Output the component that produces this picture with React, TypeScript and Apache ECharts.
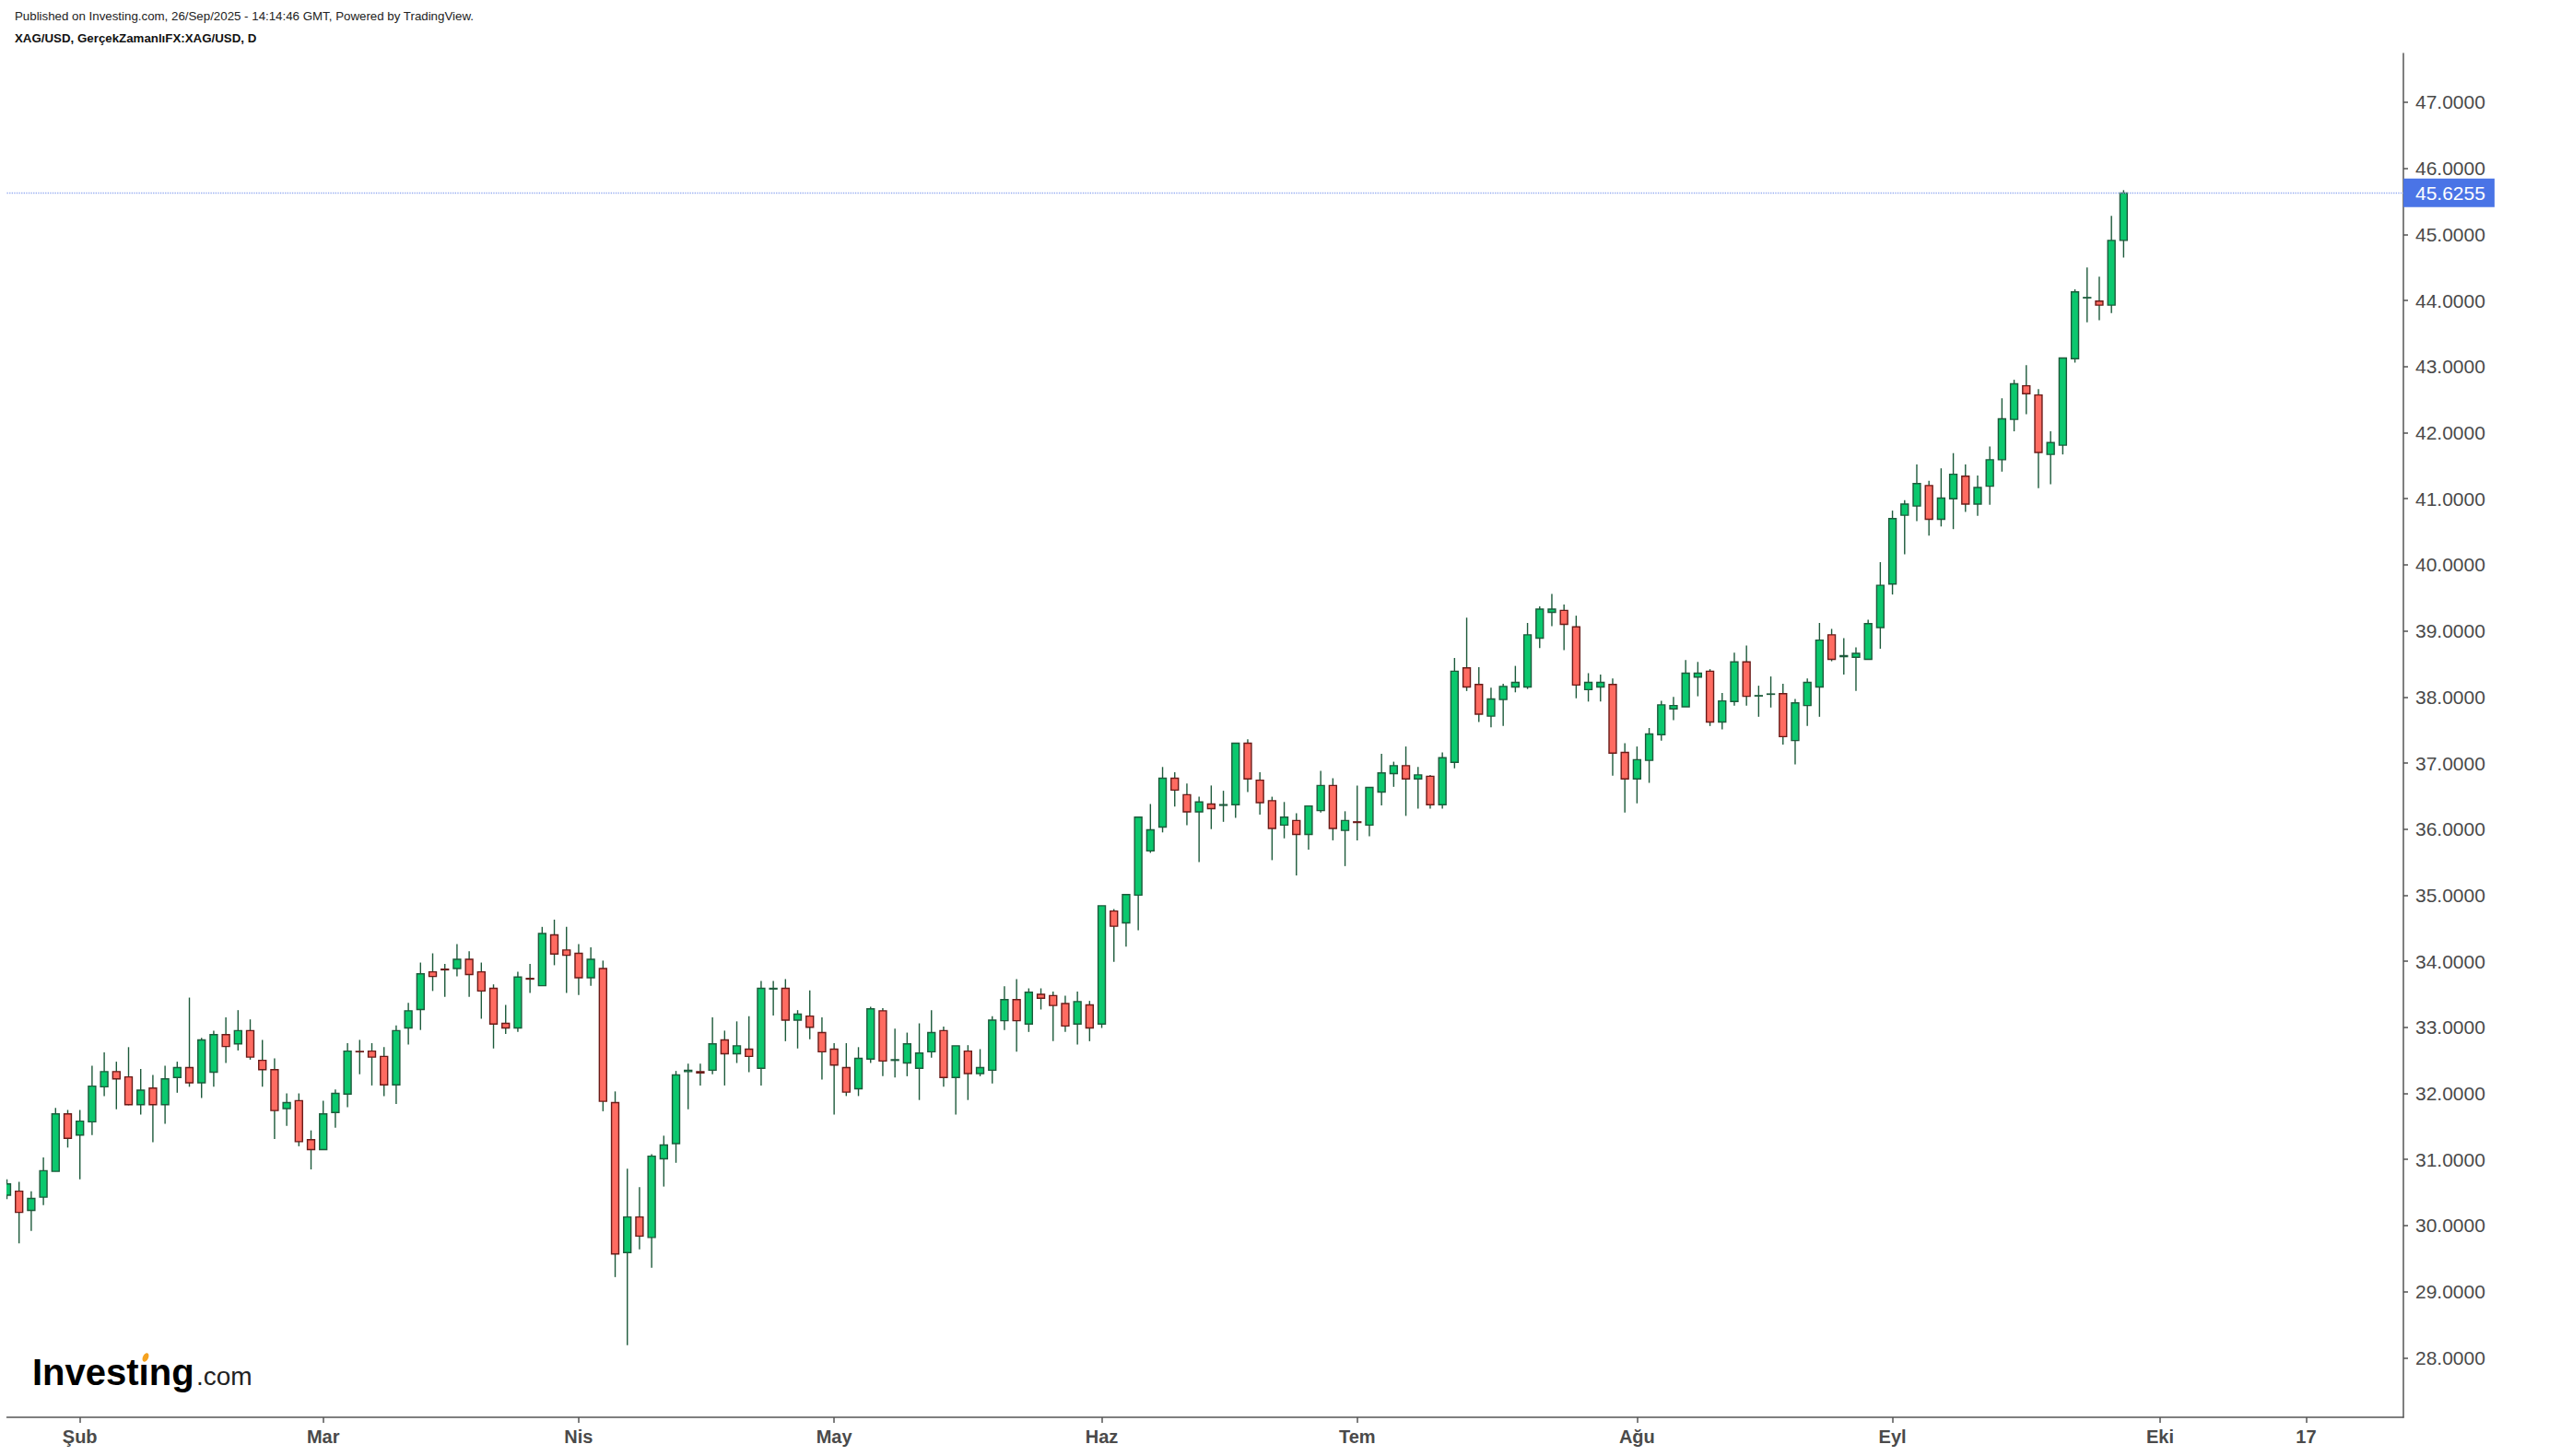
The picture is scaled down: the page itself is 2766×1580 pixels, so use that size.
import React, { useEffect, useRef } from "react";
import * as echarts from "echarts";

// ---- trading days (Jan 24 – Oct 29, 2025; Apr 18 closed) ----
const jan25 = [24, 27, 28, 29, 30, 31];
const feb25 = [3, 4, 5, 6, 7, 10, 11, 12, 13, 14, 17, 18, 19, 20, 21, 24, 25, 26, 27, 28];
const mar25 = [3, 4, 5, 6, 7, 10, 11, 12, 13, 14, 17, 18, 19, 20, 21, 24, 25, 26, 27, 28, 31];
const apr25 = [1, 2, 3, 4, 7, 8, 9, 10, 11, 14, 15, 16, 17, 21, 22, 23, 24, 25, 28, 29, 30];
const may25 = [1, 2, 5, 6, 7, 8, 9, 12, 13, 14, 15, 16, 19, 20, 21, 22, 23, 26, 27, 28, 29, 30];
const jun25 = [2, 3, 4, 5, 6, 9, 10, 11, 12, 13, 16, 17, 18, 19, 20, 23, 24, 25, 26, 27, 30];
const jul25 = [1, 2, 3, 4, 7, 8, 9, 10, 11, 14, 15, 16, 17, 18, 21, 22, 23, 24, 25, 28, 29, 30, 31];
const aug25 = [1, 4, 5, 6, 7, 8, 11, 12, 13, 14, 15, 18, 19, 20, 21, 22, 25, 26, 27, 28, 29];
const sep25 = [1, 2, 3, 4, 5, 8, 9, 10, 11, 12, 15, 16, 17, 18, 19, 22, 23, 24, 25, 26, 29, 30];
const oct25 = [1, 2, 3, 6, 7, 8, 9, 10, 13, 14, 15, 16, 17, 20, 21, 22, 23, 24, 27, 28, 29];

// ---- x-axis tick labels ----
const tickDates = ["2025-02-03", "2025-03-03", "2025-04-01", "2025-05-01", "2025-06-02", "2025-07-01", "2025-08-01", "2025-09-01", "2025-10-01", "2025-10-17"];
const tickLabels = ["Şub", "Mar", "Nis", "May", "Haz", "Tem", "Ağu", "Eyl", "Eki", "17"];

// ---- y-axis tick values ----
const yTicks = [28, 29, 30, 31, 32, 33, 34, 35, 36, 37, 38, 39, 40, 41, 42, 43, 44, 45, 46, 47];

// ---- OHLC (XAG/USD daily) ----
const opens = [30.46,30.52,30.23,30.43,30.82,31.69,31.37,31.57,32.10,32.33, 32.25,31.83,32.08,31.83,32.24,32.39,32.16,32.32,32.89,32.75, 32.95,32.50,32.36,31.77,31.89,31.30,31.15,31.71,31.99,32.635, 32.64,32.56,32.13,32.99,33.27,33.84,33.88,33.89,34.03,33.84, 33.59,33.06,32.99,33.74,33.63,34.40,34.17,34.12,33.75,33.89, 31.86,29.59,30.13,29.82,31.01,31.24,32.33,32.33,32.35,32.81, 32.60,32.67,32.38,33.58,33.59,33.11,33.17,32.92,32.67,32.39, 32.07,32.52,33.25,32.50,32.46,32.38,32.63,32.95,32.24,32.64, 32.30,32.35,33.10,33.42,33.05,33.50,33.48,33.36,33.05,33.34, 33.05,34.76,34.58,35.00,35.67,36.03,36.77,36.52,36.26,36.38, 36.36,36.37,37.30,36.74,36.43,36.06,36.13,35.92,36.28,36.66, 35.98,36.11,36.06,36.56,36.84,36.96,36.76,36.80,36.37,37.01, 38.44,38.19,37.71,37.96,38.15,38.15,38.89,39.28,39.31,39.06, 38.11,38.15,38.19,37.16,36.76,37.04,37.43,37.82,37.85,38.30, 38.39,37.62,37.93,38.53,38.015,38.04,38.05,37.34,37.87,38.15, 38.94,38.61,38.60,38.57,39.05,39.71,40.75,40.89,41.20,40.69, 41.00,41.34,40.92,41.19,41.59,42.20,42.71,42.57,41.67,41.81, 43.12,44.04,43.99,43.93,44.91];
const closes = [30.63,30.20,30.41,30.83,31.69,31.32,31.58,32.11,32.33,32.22, 31.83,32.05,31.83,32.22,32.39,32.16,32.81,32.89,32.71,32.95, 32.55,32.36,31.74,31.86,31.27,31.15,31.69,32.00,32.64,32.63, 32.55,32.13,32.95,33.25,33.81,33.77,33.87,34.03,33.80,33.55, 33.05,32.99,33.76,33.73,34.42,34.11,34.09,33.75,34.03,31.88, 29.57,30.13,29.84,31.05,31.22,32.28,32.35,32.31,32.75,32.60, 32.72,32.56,33.59,33.59,33.11,33.20,33.00,32.63,32.43,32.02, 32.53,33.28,32.49,32.51,32.75,32.61,32.92,32.24,32.72,32.30, 32.39,33.11,33.42,33.10,33.53,33.44,33.33,33.02,33.39,32.99, 34.84,34.53,35.01,36.18,35.99,36.77,36.59,36.26,36.41,36.31, 36.37,37.30,36.76,36.40,36.01,36.18,35.92,36.35,36.66,36.01, 36.13,36.10,36.63,36.85,36.96,36.76,36.82,36.37,37.08,38.39, 38.15,37.74,37.97,38.16,38.22,38.94,39.33,39.33,39.10,38.18, 38.22,38.22,37.15,36.76,37.05,37.44,37.88,37.87,38.36,38.36, 37.62,37.94,38.53,38.01,38.02,38.045,37.40,37.91,38.22,38.86, 38.57,38.625,38.66,39.11,39.69,40.70,40.92,41.23,40.69,41.01, 41.37,40.92,41.17,41.59,42.21,42.74,42.59,41.70,41.85,43.13, 44.13,44.045,43.93,44.91,45.6255];
const lows = [30.40,29.73,29.92,30.31,30.82,31.18,30.70,31.37,31.96,31.76, 31.82,31.68,31.26,31.54,32.01,32.10,31.93,32.10,32.46,32.65, 32.51,32.10,31.31,31.51,31.20,30.85,31.15,31.48,31.79,32.29, 32.12,31.96,31.84,32.74,32.96,33.55,33.46,33.77,33.46,33.13, 32.68,32.90,32.93,33.52,33.63,33.94,33.52,33.49,33.63,31.73, 29.22,28.19,29.64,29.36,30.59,30.95,31.76,32.12,32.29,32.12, 32.46,32.32,32.12,33.18,32.79,32.68,32.82,32.21,31.68,31.96, 31.96,32.46,32.26,32.24,32.26,31.90,32.54,32.10,31.68,31.90, 32.26,32.15,32.96,32.63,32.93,33.27,32.79,32.93,32.74,32.79, 32.99,33.99,34.22,34.47,35.64,35.95,36.34,36.06,35.50,36.00, 36.11,36.17,36.56,36.22,35.53,35.86,35.30,35.69,36.25,35.83, 35.44,35.83,35.89,36.36,36.64,36.20,36.31,36.31,36.31,36.92, 38.09,37.62,37.54,37.56,38.07,38.12,38.74,39.07,38.71,37.98, 37.93,37.93,36.81,36.25,36.39,36.70,37.34,37.65,37.85,38.01, 37.56,37.51,37.87,37.87,37.70,37.84,37.28,36.98,37.56,37.70, 38.54,38.34,38.09,38.57,38.73,39.55,40.16,40.66,40.44,40.58, 40.54,40.80,40.74,40.91,41.41,42.02,42.28,41.16,41.22,41.67, 43.06,43.67,43.70,43.81,44.65];
const highs = [30.70,30.66,30.52,31.03,31.78,31.75,31.75,32.42,32.62,32.48, 32.70,32.37,32.28,32.42,32.48,33.45,32.84,32.95,33.15,33.26, 33.12,32.81,32.53,32.00,32.00,31.44,31.89,32.06,32.76,32.81, 32.76,32.70,33.03,33.37,33.98,34.12,33.96,34.26,34.15,33.98, 33.65,33.34,33.84,33.96,34.52,34.63,34.52,34.26,34.21,34.01, 32.03,30.86,30.58,31.08,31.36,32.34,32.45,32.45,33.15,32.95, 33.09,33.17,33.70,33.70,33.73,33.26,33.56,33.15,32.76,32.76, 32.70,33.31,33.29,32.98,32.92,33.06,33.26,33.01,32.72,32.73, 32.67,33.17,33.62,33.73,33.59,33.59,33.54,33.48,33.54,33.40, 34.84,34.79,35.01,36.18,36.38,36.94,36.86,36.69,36.49,36.66, 36.58,37.30,37.36,36.86,36.49,36.41,36.24,36.35,36.88,36.77, 36.27,36.66,36.63,37.14,37.02,37.25,36.94,36.82,37.16,38.59, 39.20,38.45,38.14,38.20,38.47,39.12,39.37,39.56,39.40,39.23, 38.36,38.34,38.28,37.30,37.25,37.53,37.94,38.00,38.56,38.53, 38.42,38.06,38.67,38.78,38.17,38.31,38.20,37.97,38.28,39.12, 39.03,38.89,38.75,39.17,40.04,40.82,40.98,41.52,41.27,41.46, 41.69,41.52,41.35,41.79,42.52,42.80,43.02,42.66,42.02,43.13, 44.17,44.50,44.36,45.28,45.67];

const lastPrice = 45.6255;

const pad = (d: number) => (d < 10 ? "0" + d : "" + d);
const monthDays: [string, number[]][] = [
  ["2025-01", jan25], ["2025-02", feb25], ["2025-03", mar25], ["2025-04", apr25], ["2025-05", may25],
  ["2025-06", jun25], ["2025-07", jul25], ["2025-08", aug25], ["2025-09", sep25], ["2025-10", oct25],
];
const categories: string[] = [];
monthDays.forEach(([m, days]) => days.forEach((d) => categories.push(m + "-" + pad(d))));

const FONT = "Liberation Sans";
const UP_FILL = "#0bc86e";
const UP_BORDER = "#1d5a3b";
const DOWN_FILL = "#ff6b61";
const DOWN_BORDER = "#6a1b18";
const WICK = "#1d5a3b";
const AXIS = "#555555";
const LABEL = "#4a4a4a";

export default function App() {
  const ref = useRef<HTMLDivElement>(null);
  useEffect(() => {
    const chart = echarts.init(ref.current!, null, { renderer: "svg" });
    const data = opens.map((o, i) => [i, o, closes[i], lows[i], highs[i]]);
    const option: any = {
      animation: false,
      backgroundColor: "#ffffff",
      textStyle: { fontFamily: FONT },
      grid: { left: 7.5, right: 158, top: 58, bottom: 42 },
      xAxis: {
        type: "category",
        data: categories,
        boundaryGap: false,
        axisLine: { show: true, lineStyle: { color: AXIS, width: 1.5 } },
        axisTick: {
          show: true,
          length: 6,
          interval: (_i: number, v: string) => tickDates.indexOf(v) >= 0,
          lineStyle: { color: AXIS, width: 1.5 },
        },
        axisLabel: {
          interval: (_i: number, v: string) => tickDates.indexOf(v) >= 0,
          formatter: (v: string) => {
            const k = tickDates.indexOf(v);
            return k >= 0 ? tickLabels[k] : "";
          },
          fontSize: 20,
          fontWeight: "bold",
          color: LABEL,
          fontFamily: FONT,
          margin: 11,
        },
        splitLine: { show: false },
      },
      yAxis: {
        type: "value",
        position: "right",
        min: 27.098,
        max: 47.739,
        axisLine: { show: true, lineStyle: { color: AXIS, width: 1.5 } },
        axisTick: { show: true, length: 5, customValues: yTicks, lineStyle: { color: AXIS, width: 1.5 } },
        axisLabel: {
          customValues: yTicks,
          formatter: (v: number) => v.toFixed(4),
          fontSize: 21,
          color: LABEL,
          fontFamily: FONT,
          margin: 13,
        },
        splitLine: { show: false },
      },
      series: [
        {
          type: "custom",
          clip: true,
          data,
          encode: { x: 0, y: [1, 2, 3, 4] },
          renderItem: (_params: any, api: any) => {
            const i = api.value(0);
            const o = api.value(1);
            const c = api.value(2);
            const l = api.value(3);
            const h = api.value(4);
            const pO = api.coord([i, o]);
            const pC = api.coord([i, c]);
            const pL = api.coord([i, l]);
            const pH = api.coord([i, h]);
            const band = api.size([1, 0])[0];
            const w = band * 0.6;
            const up = c >= o;
            const top = Math.min(pO[1], pC[1]);
            const hgt = Math.max(Math.abs(pO[1] - pC[1]), 0.3);
            return {
              type: "group",
              children: [
                {
                  type: "line",
                  shape: { x1: pO[0], y1: pH[1], x2: pO[0], y2: pL[1] },
                  style: { stroke: WICK, lineWidth: 1.4 },
                },
                {
                  type: "rect",
                  shape: { x: pO[0] - w / 2, y: top, width: w, height: hgt },
                  style: { fill: up ? UP_FILL : DOWN_FILL, stroke: up ? UP_BORDER : DOWN_BORDER, lineWidth: 1.4 },
                },
              ],
            };
          },
          markLine: {
            silent: true,
            symbol: ["none", "none"],
            data: [{ yAxis: lastPrice }],
            lineStyle: { color: "#93a9f0", type: "dotted", width: 1.3 },
            label: {
              show: true,
              position: "end",
              distance: 0,
              formatter: () => lastPrice.toFixed(4),
              backgroundColor: "#4a74e6",
              color: "#ffffff",
              fontSize: 21,
              fontFamily: FONT,
              padding: [5, 10, 5, 13],
            },
          },
        },
      ],
      graphic: [
        {
          type: "text",
          x: 16,
          y: 17,
          style: {
            text: "Published on Investing.com, 26/Sep/2025 - 14:14:46 GMT, Powered by TradingView.",
            fontSize: 13.3,
            fontFamily: FONT,
            fill: "#222222",
            verticalAlign: "middle",
          },
        },
        {
          type: "text",
          x: 16,
          y: 41,
          style: {
            text: "XAG/USD, GerçekZamanlıFX:XAG/USD, D",
            fontSize: 13.3,
            fontWeight: "bold",
            fontFamily: FONT,
            fill: "#111111",
            verticalAlign: "middle",
          },
        },
        {
          type: "text",
          x: 35,
          y: 1489,
          style: {
            text: "Investıng",
            fontSize: 40,
            fontWeight: "bold",
            fontFamily: FONT,
            fill: "#000000",
            verticalAlign: "middle",
          },
        },
        {
          type: "text",
          x: 213,
          y: 1493,
          style: {
            text: ".com",
            fontSize: 28,
            fontFamily: FONT,
            fill: "#222222",
            verticalAlign: "middle",
          },
        },
        {
          type: "ellipse",
          x: 158,
          y: 1473,
          rotation: -0.45,
          shape: { cx: 0, cy: 0, rx: 3, ry: 5 },
          style: { fill: "#f5a21f" },
        },
      ],
    };
    chart.setOption(option);
    return () => chart.dispose();
  }, []);
  return (
    <div
      ref={ref}
      style={{ position: "absolute", left: 0, top: 0, width: 2766, height: 1580, background: "#ffffff" }}
    />
  );
}
